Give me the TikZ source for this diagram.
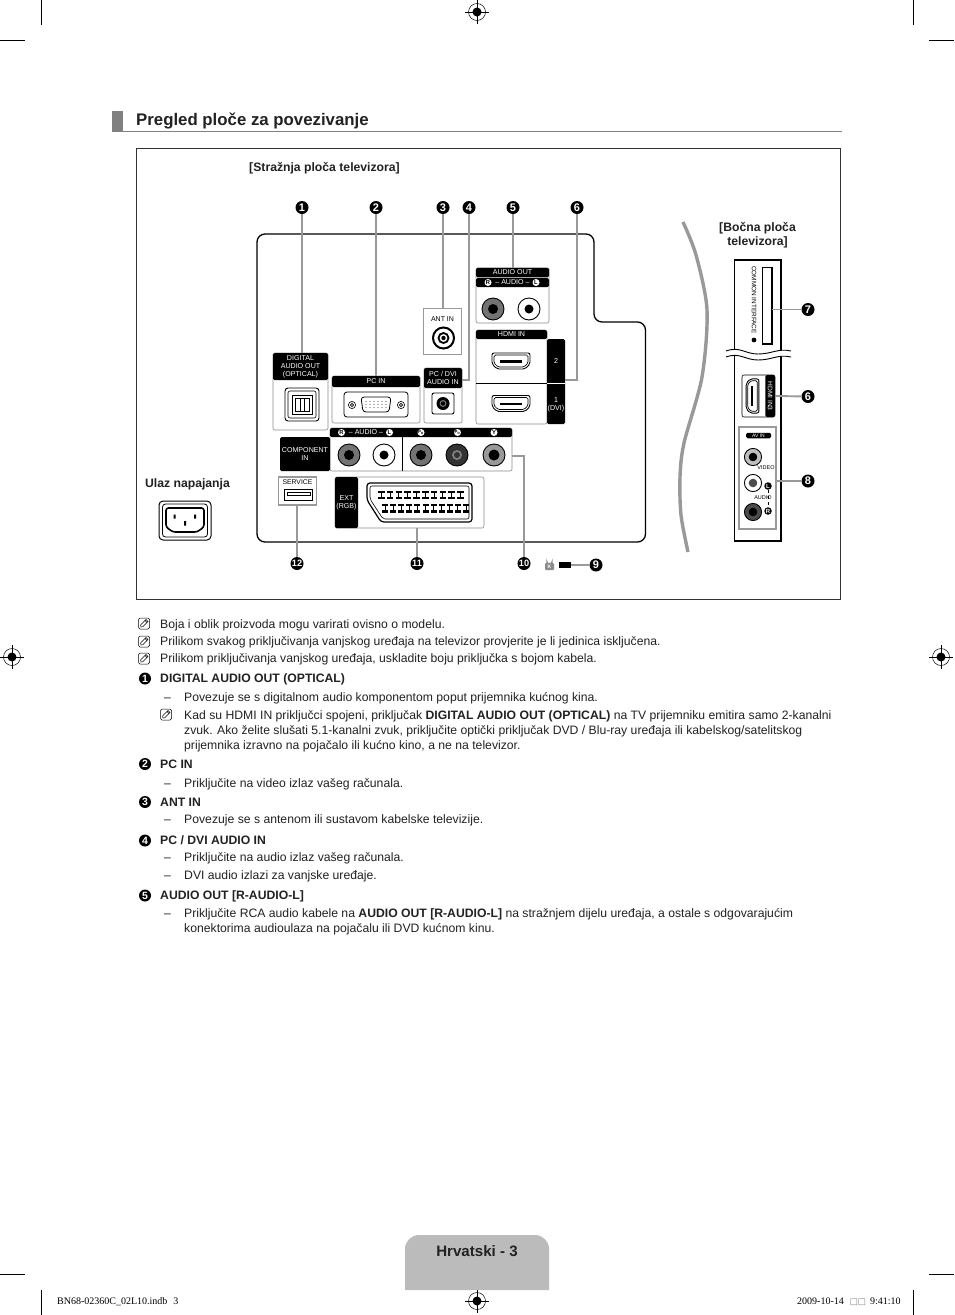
\documentclass[tikz,border=0pt]{standalone}
\usepackage{fontspec}
\setmainfont{Liberation Sans}
\newfontfamily\footserif{Liberation Serif}
\newfontfamily\boxglyph{DejaVu Sans}
\usetikzlibrary{arrows.meta,positioning}
\definecolor{leader-gray}{HTML}{999999}
\definecolor{tab-gray}{HTML}{BBBBBB}
\definecolor{rule-gray}{HTML}{808080}
\definecolor{ink}{HTML}{222222}
\tikzset{
  port-body/.style={draw=black!45, fill=white, rounded corners=2pt, line width=0.6pt, inner sep=0pt, outer sep=0pt},
  port-head/.style={fill=black, text=white, rounded corners=1.5pt, inner sep=0pt, outer sep=0pt, align=center,
    font=\fontsize{7.1}{8}\selectfont},
  gray-box/.style={draw=leader-gray, fill=white, line width=1.8pt, inner sep=0pt, outer sep=0pt},
  leader/.style={draw=leader-gray, line width=1.9pt},
  num-badge/.style={circle, fill=black, text=white, inner sep=0pt, minimum size=13pt,
    font=\bfseries\fontsize{11}{11}\selectfont},
  list-badge/.style={num-badge, minimum size=12pt, font=\bfseries\fontsize{10.5}{10.5}\selectfont},
  tight-badge/.style={num-badge, font=\bfseries\fontsize{9.2}{9}\selectfont},
  mini-badge/.style={circle, fill=white, text=black, inner sep=0pt, minimum size=7pt,
    font=\bfseries\fontsize{5.8}{6}\selectfont},
  dark-mini/.style={circle, fill=black, text=white, inner sep=0pt, minimum size=7.5pt,
    font=\bfseries\fontsize{6}{6}\selectfont},
  tiny-label/.style={inner sep=0pt, font=\fontsize{5.6}{6.5}\selectfont, align=center},
  body-line/.style={anchor=base west, inner sep=0pt, text=ink, font=\fontsize{12.2}{14}\selectfont},
  item-line/.style={body-line, font=\bfseries\fontsize{12.2}{14}\selectfont},
  dash-mark/.style={body-line},
  caption-bold/.style={inner sep=0pt, text=ink, align=center, font=\bfseries\fontsize{12.2}{14}\selectfont},
  foot-text/.style={inner sep=0pt, anchor=base west, font=\footserif\fontsize{10}{12}\selectfont},
  crop-line/.style={draw=black, line width=0.7pt},
  pics/jack/.style n args={3}{code={
    \fill[#1, draw=black, line width=0.9pt] (0,0) circle (11);
    \fill[#2] (0,0) circle (#3);
  }},
  pics/hdmi-port/.style={code={
    \draw[line width=0.9pt, fill=white, rounded corners=2pt] (-19,-8) -- (19,-8) -- (19,3) -- (14,8) -- (-14,8) -- (-19,3) -- cycle;
    \draw[line width=0.7pt, rounded corners=1.5pt] (-17,-6) -- (17,-6) -- (17,2) -- (13,6) -- (-13,6) -- (-17,2) -- cycle;
    \fill[black] (-11,-1) rectangle (11,1.6);
  }},
  pics/note-mark/.style={code={
    \draw[line width=0.5pt, rounded corners=1.5pt, fill=white] (-5.5,-5.5) rectangle (5.5,5.5);
    \draw[line width=0.5pt] (-3,3.5) -- (-3.4,1.5) -- (2,-4) -- (4,-2) -- (-1.2,3.2) -- cycle (1,-3) -- (3,-1);
  }},
  pics/reg-mark/.style={code={
    \draw[line width=0.5pt] (0,0) circle (8.5);
    \draw[line width=0.5pt] (-12,0) -- (12,0) (0,-12) -- (0,12);
    \fill[black] (0,0) -- (4.5,0) arc (0:90:4.5) -- cycle;
    \fill[black] (0,0) -- (-4.5,0) arc (180:270:4.5) -- cycle;
    \fill[black] (0,-4.5) arc (270:360:4.5) -- (0,0) -- cycle;
    \fill[black] (-4.5,0) arc (180:90:4.5) -- (0,0) -- cycle;
  }}
}
\begin{document}
\begin{tikzpicture}[x=1pt, y=-1pt, >=Latex]
  \useasboundingbox (0,0) rectangle (954,1315);
  \fill[white] (0,0) rectangle (954,1315);

  \draw[crop-line] (41,0) -- (41,25) (913,0) -- (913,25) (0,40) -- (25,40) (929,40) -- (954,40);
  \draw[crop-line] (41,1290) -- (41,1315) (913,1290) -- (913,1315) (0,1274) -- (25,1274) (929,1274) -- (954,1274);
  \pic at (477,12) {reg-mark};
  \pic at (477,1301) {reg-mark};
  \pic at (12,657) {reg-mark};
  \pic at (941,657) {reg-mark};

  \fill[rule-gray] (112,111) rectangle (123,132);
  \fill[rule-gray] (112,130.6) rectangle (842,132.4);
  \node[anchor=base west, inner sep=0pt, text=ink, font=\bfseries\fontsize{16.8}{20}\selectfont] (title) at (136,125) {Pregled ploče za povezivanje};

  \draw[line width=0.7pt, draw=black!80] (136.5,148) rectangle (840.5,599);
  \node[caption-bold] (rear-caption) at (324.5,168.5) {[Stražnja ploča televizora]};
  \node[caption-bold] (side-caption) at (757.5,235) {[Bočna ploča\\televizora]};
  \node[caption-bold] (power-caption) at (187.5,484) {Ulaz napajanja};

  \draw[line width=1.3pt, rounded corners=8pt] (257,234) -- (594,234) -- (594,322) -- (645.5,322) -- (645.5,542) -- (257,542) -- cycle;

  \node[num-badge] (bdg1) at (302,207.5) {1};
  \node[num-badge] (bdg2) at (376,207.5) {2};
  \node[num-badge] (bdg3) at (443,207.5) {3};
  \node[num-badge] (bdg4) at (469,207.5) {4};
  \node[num-badge] (bdg5) at (513,207.5) {5};
  \node[num-badge] (bdg6) at (577,207.5) {6};
  \node[num-badge] (bdg6b) at (808,396.5) {6};
  \node[num-badge] (bdg7) at (808,309.5) {7};
  \node[num-badge] (bdg8) at (808,481) {8};
  \node[num-badge] (bdg9) at (596,565) {9};
  \node[tight-badge] (bdg10) at (524,563.5) {10};
  \node[tight-badge] (bdg11) at (417,563.5) {11};
  \node[tight-badge] (bdg12) at (297,563.5) {12};

  \node[port-body, minimum width=55, minimum height=77] (digital-body) at (300.5,391.5) {};
  \node[port-head, minimum width=55, minimum height=27] (digital-head) at (300.5,366.5) {DIGITAL\\AUDIO OUT\\(OPTICAL)};
  \draw[line width=0.9pt, rounded corners=3pt] (285,388) rectangle (319,421);
  \draw[line width=0.6pt, rounded corners=2pt] (288,391) rectangle (316,418);
  \draw[line width=1pt] (292,395) rectangle (312,414);
  \draw[line width=0.9pt] (295,398) rectangle (309,411) (300,398) -- (300,411) (304,398) -- (304,411);

  \node[port-body, minimum width=88, minimum height=47] (pc-body) at (376,399.5) {};
  \node[port-head, minimum width=88, minimum height=11] (pc-head) at (376,381.5) {PC IN};
  \draw[line width=0.8pt, rounded corners=3pt] (344,392) rectangle (408,417);
  \draw[line width=0.8pt, rounded corners=3pt] (361,397) -- (391,397) -- (389,412) -- (363,412) -- cycle;
  \draw[line width=0.6pt] (352,405) circle (3.6) (352,405) circle (1.6) (401,405) circle (3.6) (401,405) circle (1.6);
  \foreach \pinx in {366,370,374,378,382,386} {
    \fill[black!60] (\pinx,401.5) circle (0.6) (\pinx,404.5) circle (0.6) (\pinx,407.5) circle (0.6);
  }

  \node[port-body, minimum width=38, minimum height=55] (pcdvi-body) at (443,395.5) {};
  \node[port-head, minimum width=38, minimum height=20] (pcdvi-head) at (443,378) {PC / DVI\\AUDIO IN};
  \draw[line width=0.9pt, rounded corners=2pt] (432,393) rectangle (454,414);
  \fill[black] (443,403.5) circle (6.5);
  \fill[black!55] (443,403.5) circle (3.5);
  \fill[black] (443,403.5) circle (2.2);

  \node[gray-box, minimum width=38, minimum height=46] (ant-box) at (442.5,331.5) {};
  \node[tiny-label, font=\fontsize{7}{8}\selectfont] (ant-label) at (442.5,319) {ANT IN};
  \draw[line width=2pt] (443.5,338) circle (10.5);
  \draw[line width=1.8pt] (443.5,338) circle (5);
  \fill[black] (443.5,338) circle (2.2);

  \node[port-body, minimum width=73, minimum height=55] (audio-body) at (512.5,295.5) {};
  \node[port-head, minimum width=73, minimum height=9.5] (audio-head) at (512.5,272.5) {AUDIO OUT};
  \node[port-head, minimum width=73, minimum height=9] (audio-sub) at (512.5,282.5) {– AUDIO –};
  \node[mini-badge] (audio-r) at (488,282.5) {R};
  \node[mini-badge] (audio-l) at (536,282.5) {L};
  \pic at (493,309) {jack={black!55}{black}{5}};
  \pic at (529,309) {jack={white}{black}{4.5}};

  \node[port-body, minimum width=71, minimum height=94] (hdmi-body) at (511.5,377) {};
  \node[port-head, minimum width=71, minimum height=9] (hdmi-head) at (511.5,334.5) {HDMI IN};
  \node[port-head, minimum width=18, minimum height=85, rounded corners=1.5pt] (hdmi-strip) at (556,381.5) {};
  \draw[line width=0.7pt, draw=black] (476,383) -- (547,383);
  \draw[line width=0.8pt, draw=white] (547,383) -- (565,383);
  \node[port-head, fill=none] (hdmi-two) at (556,361) {2};
  \node[port-head, fill=none] (hdmi-one) at (556,405) {1\\(DVI)};
  \pic at (511,361) {hdmi-port};
  \pic at (511,403.5) {hdmi-port};

  \node[port-body, minimum width=182, minimum height=43] (comp-body) at (421,449.5) {};
  \node[port-head, minimum width=182, minimum height=9] (comp-head) at (421,432.5) {};
  \node[port-head, minimum width=50, minimum height=34] (comp-label) at (305,454) {COMPONENT\\IN};
  \draw[line width=0.7pt] (402,428) -- (402,471);
  \node[port-head, fill=none] (comp-audio) at (366,432.5) {– AUDIO –};
  \node[mini-badge] (comp-r) at (341.5,432.5) {R};
  \node[mini-badge] (comp-l) at (389.5,432.5) {L};
  \node[mini-badge, font=\bfseries\fontsize{4.4}{5}\selectfont] (comp-pb) at (421,432.5) {P\textsubscript{B}};
  \node[mini-badge, font=\bfseries\fontsize{4.4}{5}\selectfont] (comp-pr) at (457.5,432.5) {P\textsubscript{R}};
  \node[mini-badge] (comp-y) at (494,432.5) {Y};
  \pic at (349,455) {jack={black!55}{black}{5}};
  \pic at (384,455) {jack={white}{black}{4.5}};
  \pic at (421,455) {jack={black!55}{black}{5}};
  \pic at (457,455) {jack={black!80}{black!50}{5}};
  \fill[black!80] (457,455) circle (3);
  \pic at (494,455) {jack={black!40}{black}{5.5}};

  \node[gray-box, minimum width=38, minimum height=28] (service-box) at (297.5,491) {};
  \node[tiny-label, font=\fontsize{6.8}{8}\selectfont] (service-label) at (297.5,482) {SERVICE};
  \draw[line width=1.2pt] (284.5,489.5) rectangle (312.5,500.5);
  \draw[line width=0.5pt, fill=white] (287,492.5) rectangle (310,495);

  \node[port-body, minimum width=149, minimum height=51] (ext-body) at (409.5,502.5) {};
  \node[port-head, minimum width=23, minimum height=51] (ext-head) at (346.5,502.5) {EXT\\(RGB)};
  \draw[line width=1.2pt, rounded corners=3pt] (367,483) -- (472,483) -- (472,522) -- (381,522) -- (367,500) -- cycle;
  \draw[line width=0.6pt, rounded corners=2pt] (370,486) -- (469,486) -- (469,519) -- (383,519) -- (370,499) -- cycle;
  \foreach \pini in {0,...,9} {
    \fill[black] ({378+8.8*\pini},490.5) rectangle ({384.5+8.8*\pini},493);
    \fill[black] ({378+8.8*\pini},496.5) rectangle ({384.5+8.8*\pini},499);
    \fill[black] ({380.7+8.8*\pini},493) rectangle ({381.7+8.8*\pini},496.5);
  }
  \foreach \pini in {0,...,10} {
    \fill[black] ({382+8.1*\pini},503.5) rectangle ({388+8.1*\pini},506);
    \fill[black] ({382+8.1*\pini},510) rectangle ({388+8.1*\pini},512.5);
    \fill[black] ({384.5+8.1*\pini},506) rectangle ({385.5+8.1*\pini},510);
  }

  \node[draw=black, fill=white, line width=1pt, rounded corners=4pt, minimum width=52, minimum height=39, inner sep=0pt] (power-socket) at (185,520.5) {};
  \draw[line width=0.8pt, rounded corners=3pt] (162.5,504) rectangle (207.5,537);
  \draw[line width=1.6pt, rounded corners=2.5pt] (166,508) -- (204,508) -- (204,527) -- (197,532) -- (173,532) -- (166,527) -- cycle;
  \fill[black] (173.5,514.5) rectangle (175.5,518.5) (194,514.5) rectangle (196,518.5) (184,521) rectangle (186,525.5);

  \draw[leader] (bdg1) -- (bdg1 |- digital-head.north);
  \draw[leader] (bdg2) -- (bdg2 |- pc-head.north);
  \draw[leader] (bdg3) -- (bdg3 |- ant-box.north);
  \coordinate (tap4) at (461.5,380);
  \draw[leader] (bdg4) |- (tap4);
  \draw[leader] (bdg5) -- (bdg5 |- audio-head.north);
  \coordinate (tap6) at (565,380);
  \draw[leader] (bdg6) |- (tap6);
  \coordinate (tap10) at (512,456);
  \draw[leader] (bdg10) |- (tap10);
  \draw[leader] (bdg11) -- (bdg11 |- ext-body.south);
  \draw[leader] (bdg12) -- (bdg12 |- service-box.south);

  \fill[black!45, rounded corners=1pt] (545,563) rectangle (554,570);
  \draw[black!45, line width=1pt] (546.8,563) -- (546.8,561) arc (180:0:2.7) -- (552.2,563);
  \node[inner sep=0pt, text=white, font=\bfseries\fontsize{5}{5}\selectfont] (lock-key) at (549.5,566.5) {K};
  \node[fill=black, inner sep=0pt, minimum width=12, minimum height=5.5] (lock-cable) at (565,565) {};
  \draw[leader] (lock-cable) -- (bdg9);

  \draw[draw=leader-gray, line width=3.4pt] plot[smooth] coordinates {(683,222) (696,255) (707,310) (702,377) (684,443) (680,477) (681,515) (688,552)};

  \node[draw=black, fill=white, line width=1.5pt, minimum width=46.5, minimum height=281, inner sep=0pt] (side-panel) at (757.5,400.5) {};
  \fill[white] (726,351) .. controls (740,346) and (745,354) .. (758,354) .. controls (772,354) and (778,348) .. (791,351) -- (791,357) .. controls (778,354) and (772,360) .. (758,360) .. controls (745,360) and (740,352) .. (726,357) -- cycle;
  \draw[line width=0.9pt] (726,351) .. controls (740,346) and (745,354) .. (758,354) .. controls (772,354) and (778,348) .. (791,351);
  \draw[line width=0.9pt] (726,357) .. controls (740,352) and (745,360) .. (758,360) .. controls (772,360) and (778,354) .. (791,357);

  \node[tiny-label, rotate=-90, font=\fontsize{6.4}{7}\selectfont] (ci-label) at (754,300) {COMMON INTERFACE};
  \fill[black] (754,340) circle (2.4);
  \draw[line width=1.2pt] (762,267.5) -- (772,267.5) -- (772,344) -- (762,344);
  \draw[line width=0.5pt] (762,267.5) -- (762,344);
  \coordinate (slot-edge) at (772,309.5);
  \draw[leader] (bdg7) -- (slot-edge);

  \node[port-body, draw=black, minimum width=33, minimum height=42] (side-hdmi) at (758.5,396) {};
  \node[port-head, minimum width=9.5, minimum height=42] (side-hdmi-strip) at (770.2,396) {};
  \node[inner sep=0pt, rotate=-90, text=white, font=\fontsize{6.6}{7}\selectfont] (side-hdmi-label) at (770.2,396) {HDMI IN3};
  \pic[rotate=-90, xscale=0.9, yscale=0.8] at (752.5,396) {hdmi-port};
  \draw[leader] (bdg6b) -- (side-hdmi.east);

  \node[gray-box, fill=none, minimum width=37, minimum height=102] (av-box) at (757.5,478) {};
  \node[port-head, minimum width=25, minimum height=5.5, font=\fontsize{5}{5}\selectfont] (av-head) at (758.5,435.5) {AV IN};
  \node[tiny-label, font=\fontsize{5.5}{6}\selectfont] (video-label) at (766,468) {VIDEO};
  \node[tiny-label, font=\fontsize{5.5}{6}\selectfont] (side-audio-label) at (763,498) {AUDIO};
  \node[dark-mini] (side-l) at (768,486) {L};
  \node[dark-mini] (side-r) at (768,511) {R};
  \draw[line width=0.6pt, dashed] (side-l) -- (side-r);
  \pic[scale=0.78] at (753,457) {jack={black!25}{black}{5.5}};
  \pic[scale=0.78] at (753,483) {jack={white}{black!70}{5.5}};
  \pic[scale=0.78] at (753,512) {jack={black!70}{black}{5.5}};
  \draw[leader] (bdg8) -- (av-box.east |- bdg8);

  \pic at (144,623.5) {note-mark};
  \node[body-line] (note1) at (160,628) {Boja i oblik proizvoda mogu varirati ovisno o modelu.};
  \pic at (144,641.5) {note-mark};
  \node[body-line] (note2) at (160,645.5) {Prilikom svakog priključivanja vanjskog uređaja na televizor provjerite je li jedinica isključena.};
  \pic at (144,658.5) {note-mark};
  \node[body-line] (note3) at (160,662.5) {Prilikom priključivanja vanjskog uređaja, uskladite boju priključka s bojom kabela.};

  \node[list-badge] (item1) at (145,678.5) {1};
  \node[item-line] (item1-text) at (160,682.5) {DIGITAL AUDIO OUT (OPTICAL)};
  \node[dash-mark] (item1-dash) at (164,701) {–};
  \node[body-line] (item1-a) at (184,701) {Povezuje se s digitalnom audio komponentom poput prijemnika kućnog kina.};
  \pic at (166,714.5) {note-mark};
  \node[body-line] (item1-b) at (184,719) {Kad su HDMI IN priključci spojeni, priključak \textbf{DIGITAL AUDIO OUT (OPTICAL)} na TV prijemniku emitira samo 2-kanalni};
  \node[body-line] (item1-c) at (184,734) {zvuk. Ako želite slušati 5.1-kanalni zvuk, priključite optički priključak DVD / Blu-ray uređaja ili kabelskog/satelitskog};
  \node[body-line] (item1-d) at (184,749) {prijemnika izravno na pojačalo ili kućno kino, a ne na televizor.};

  \node[list-badge] (item2) at (145,764) {2};
  \node[item-line] (item2-text) at (160,768) {PC IN};
  \node[dash-mark] (item2-dash) at (164,787) {–};
  \node[body-line] (item2-a) at (184,787) {Priključite na video izlaz vašeg računala.};

  \node[list-badge] (item3) at (145,802) {3};
  \node[item-line] (item3-text) at (160,806) {ANT IN};
  \node[dash-mark] (item3-dash) at (164,823.5) {–};
  \node[body-line] (item3-a) at (184,823.5) {Povezuje se s antenom ili sustavom kabelske televizije.};

  \node[list-badge] (item4) at (145,840.5) {4};
  \node[item-line] (item4-text) at (160,844.5) {PC / DVI AUDIO IN};
  \node[dash-mark] (item4-dash) at (164,861.5) {–};
  \node[body-line] (item4-a) at (184,861.5) {Priključite na audio izlaz vašeg računala.};
  \node[dash-mark] (item4-dashb) at (164,879.5) {–};
  \node[body-line] (item4-b) at (184,879.5) {DVI audio izlazi za vanjske uređaje.};

  \node[list-badge] (item5) at (145,895.5) {5};
  \node[item-line] (item5-text) at (160,899.5) {AUDIO OUT [R-AUDIO-L]};
  \node[dash-mark] (item5-dash) at (164,917.5) {–};
  \node[body-line] (item5-a) at (184,917.5) {Priključite RCA audio kabele na \textbf{AUDIO OUT [R-AUDIO-L]} na stražnjem dijelu uređaja, a ostale s odgovarajućim};
  \node[body-line] (item5-b) at (184,932.5) {konektorima audioulaza na pojačalu ili DVD kućnom kinu.};

  \fill[tab-gray] (405,1290) -- (405,1249) arc (180:270:14) -- (535,1235) arc (270:360:14) -- (549,1290) -- cycle;
  \node[inner sep=0pt, anchor=base, text=ink, font=\bfseries\fontsize{15.1}{18}\selectfont] (page-label) at (477,1256) {Hrvatski - 3};

  \node[foot-text] (foot-file) at (57,1304.5) {BN68-02360C\_02L10.indb\hspace{6pt}3};
  \node[foot-text] (foot-date) at (797,1304.5) {2009-10-14\hspace{6pt}\textcolor{black!50}{{\boxglyph\fontsize{8.6}{9}\selectfont □□}}\hspace{4pt}9:41:10};
\end{tikzpicture}
\end{document}
